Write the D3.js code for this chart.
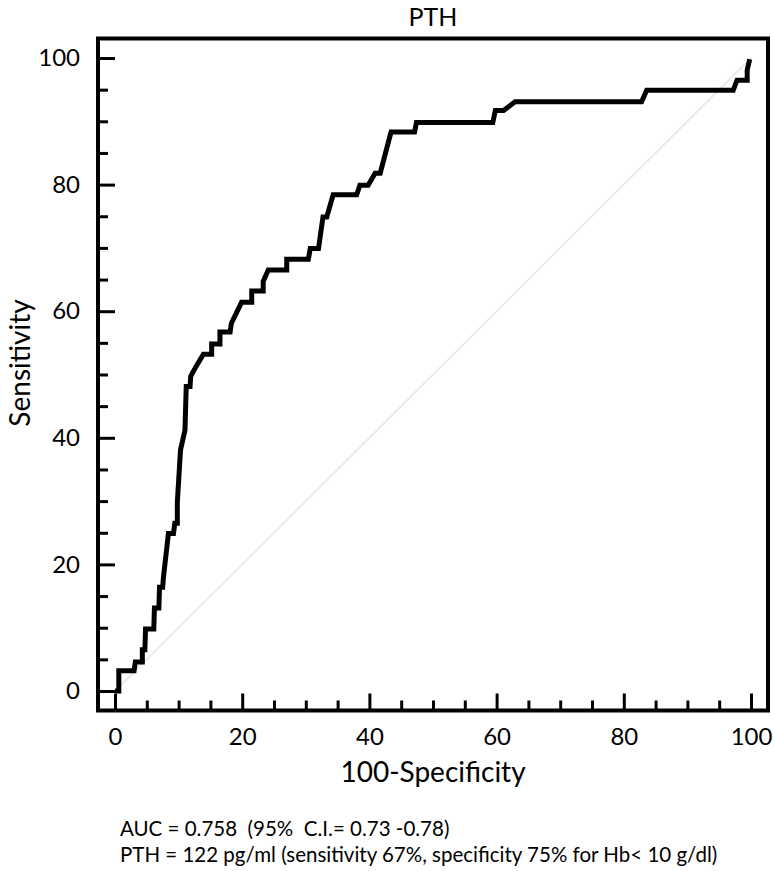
<!DOCTYPE html>
<html>
<head>
<meta charset="utf-8">
<script src="https://cdn.jsdelivr.net/npm/d3@7"></script>
<style>
  html, body { margin: 0; padding: 0; background: #fff; }
  svg { display: block; font-family: Lato, "Open Sans", sans-serif; }
</style>
</head>
<body>
<svg id="chart" width="774" height="871"></svg>
<script>
// ROC curve points: 100-Specificity (x) and Sensitivity (y)
const fpr = [0, 0.6, 0.6, 3.0, 3.2, 4.3, 4.3, 4.7, 4.8, 6.1, 6.2, 6.9, 7.0, 7.5, 7.6, 8.4, 9.2, 9.4, 9.8,
  9.8, 10.3, 10.6, 11.0, 11.2, 11.8, 11.9, 12.7, 13.9, 15.2, 15.2, 16.5, 16.5, 18.1, 18.3, 19.9, 21.5, 21.5,
  23.3, 23.3, 24.1, 27.0, 27.0, 30.4, 30.7, 32.0, 32.7, 33.3, 34.3, 38.0, 38.5, 39.8, 40.9, 41.7, 43.4, 47.1,
  47.4, 59.4, 59.8, 61.1, 62.9, 82.8, 83.6, 97.2, 97.8, 99.4, 99.4, 99.8];
const sensitivity = [0, 0, 3.2, 3.2, 4.6, 4.6, 6.5, 6.5, 9.8, 9.8, 13.1, 13.1, 16.4, 16.4, 17.8, 24.9, 24.9, 26.5, 26.5,
  29.8, 38.1, 39.4, 41.2, 48.1, 48.1, 49.7, 51.2, 53.2, 53.2, 54.8, 54.8, 56.7, 56.7, 58.1, 61.4, 61.4, 63.2,
  63.2, 64.7, 66.5, 66.5, 68.2, 68.2, 69.9, 69.9, 74.9, 74.9, 78.4, 78.4, 79.9, 79.9, 81.8, 81.8, 88.3, 88.3,
  89.8, 89.8, 91.7, 91.7, 93.1, 93.1, 94.9, 94.9, 96.5, 96.5, 98.1, 99.8];
const majorTicks = [0, 20, 40, 60, 80, 100];
const minorTicks = [5, 10, 15, 25, 30, 35, 45, 50, 55, 65, 70, 75, 85, 90, 95];
const title = "PTH";
const xLabel = "100-Specificity";
const yLabel = "Sensitivity";
const notes = ["AUC = 0.758  (95%  C.I.= 0.73 -0.78)",
  "PTH = 122 pg/ml (sensitivity 67%, specificity 75% for Hb< 10 g/dl)"];

const svg = d3.select("#chart");
const frame = { left: 98, right: 768, top: 38.5, bottom: 710.5 };

const x = d3.scaleLinear().domain([0, 100]).range([115, 751]);
const y = d3.scaleLinear().domain([0, 100]).range([691, 58]);

// diagonal reference
svg.append("line")
  .attr("x1", x(0)).attr("y1", y(0)).attr("x2", x(100)).attr("y2", y(100))
  .attr("stroke", "#ebebeb").attr("stroke-width", 2);

// ticks
const xMinor = d3.axisBottom(x).tickValues(minorTicks).tickSize(-10).tickFormat("");
const yMinor = d3.axisLeft(y).tickValues(minorTicks).tickSize(-10).tickFormat("");
const xMajor = d3.axisBottom(x).tickValues(majorTicks).tickSize(-17).tickPadding(17).tickFormat(d3.format("d"));
const yMajor = d3.axisLeft(y).tickValues(majorTicks).tickSize(-17).tickPadding(18).tickFormat(d3.format("d"));

function styleAxis(g) {
  g.select(".domain").remove();
  g.selectAll(".tick line").attr("stroke", "#000").attr("stroke-width", 3);
  g.selectAll(".tick text").attr("fill", "#000").style("font-size", "24px").style("font-family", "Lato, 'Open Sans', sans-serif");
}
svg.append("g").attr("transform", `translate(0,${frame.bottom})`).call(xMinor).call(styleAxis);
svg.append("g").attr("transform", `translate(${frame.left},0)`).call(yMinor).call(styleAxis);
svg.append("g").attr("transform", `translate(0,${frame.bottom})`).call(xMajor).call(styleAxis);
svg.append("g").attr("transform", `translate(${frame.left},0)`).call(yMajor).call(styleAxis);

// frame
svg.append("rect")
  .attr("x", frame.left).attr("y", frame.top)
  .attr("width", frame.right - frame.left).attr("height", frame.bottom - frame.top)
  .attr("fill", "none").attr("stroke", "#000").attr("stroke-width", 4);

// ROC curve
const pts = fpr.map((v, i) => [v, sensitivity[i]]);
svg.append("path")
  .datum(pts)
  .attr("d", d3.line().x(d => x(d[0])).y(d => y(d[1])))
  .attr("fill", "none").attr("stroke", "#000").attr("stroke-width", 5)
  .attr("stroke-linejoin", "miter").attr("stroke-linecap", "butt");

// titles
svg.append("text").attr("x", 433).attr("y", 26).attr("text-anchor", "middle")
  .style("font-size", "25px").text(title);
svg.append("text").attr("x", 433).attr("y", 782).attr("text-anchor", "middle")
  .style("font-size", "28px").text(xLabel);
svg.append("text").attr("transform", "translate(30,363) rotate(-90)").attr("text-anchor", "middle")
  .style("font-size", "28px").text(yLabel);

svg.selectAll("text.note").data(notes).enter().append("text")
  .attr("class", "note")
  .attr("x", 120).attr("y", (d, i) => 836 + i * 26)
  .style("font-size", "20.5px").style("white-space", "pre").text(d => d);
</script>
</body>
</html>
